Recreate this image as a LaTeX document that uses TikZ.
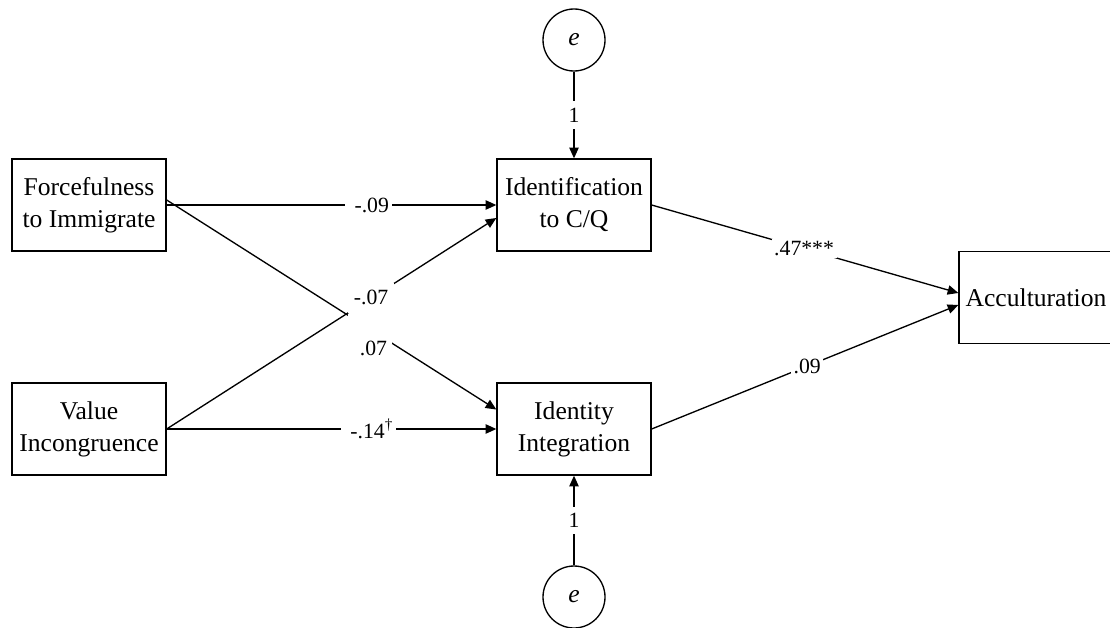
\documentclass[tikz,border=0pt]{standalone}
\usepackage{fontspec}
\setmainfont{Liberation Serif}
\usetikzlibrary{arrows.meta}
\begin{document}
\begin{tikzpicture}[x=0.75pt,y=-0.75pt,
  box/.style={draw, line width=1pt, minimum width=115.5pt, minimum height=69pt, inner sep=0pt, align=center, font=\fontsize{19.2}{24}\selectfont},
  err/.style={draw, circle, line width=1pt, minimum size=46.5pt, inner sep=0pt, font=\fontsize{19.2}{24}\selectfont\itshape},
  conn/.style={line width=1pt, -{Triangle[length=8pt,width=7pt]}},
  lbl/.style={fill=white, inner xsep=2pt, inner ysep=1.5pt, font=\fontsize{16.3}{18}\selectfont},
  lblv/.style={fill=white, inner xsep=2pt, inner ysep=5pt, font=\fontsize{16.3}{18}\selectfont},
  gapbox/.style={fill=white, inner sep=0pt, font=\fontsize{16.3}{18}\selectfont},
]
\useasboundingbox (0,0) rectangle (1110,628);
\node[box] (ff) at (89,205) {Forcefulness\\to Immigrate};
\node[box] (vi) at (89,429) {Value\\Incongruence};
\node[box] (idc) at (574,205) {Identification\\to C/Q};
\node[box] (ii) at (574,429) {Identity\\Integration};
\node[box] (acc) at (1036,297.5) {Acculturation};
\node[err] (e1) at (574,40) {e};
\node[err] (e2) at (574,597) {e};

\draw[conn] (ff.east) -- (idc.west) node[lbl,pos=0.612]{\hspace{5pt}-.09};
\draw[conn] (vi.east) -- (ii.west) node[lbl,pos=0.612]{\hspace{5pt}-.14\textsuperscript{†}};
\draw[conn] ([yshift=3.75pt]ff.east) -- ([yshift=14.6pt]ii.west)
  node[gapbox, pos=0.618, minimum width=33pt, minimum height=22.5pt,
       label={[font=\fontsize{16.3}{18}\selectfont, label distance=-7pt, xshift=2.25pt]below:.07}] {};
\draw[conn] (vi.east) -- ([yshift=-9.75pt]idc.west)
  node[gapbox, pos=0.62, minimum width=34.5pt, minimum height=22.5pt] {\raisebox{2pt}{-.07}};
\draw[conn] (idc.east) -- ([yshift=3.4pt]acc.west) node[lbl,pos=0.497]{.47***};
\draw[conn] (ii.east) -- ([yshift=-5.6pt]acc.west) node[lbl,pos=0.507]{.09};
\draw[conn] (e1) -- (idc) node[lblv,pos=0.5]{1};
\draw[conn] (e2) -- (ii) node[lblv,pos=0.5]{1};
\end{tikzpicture}
\end{document}
